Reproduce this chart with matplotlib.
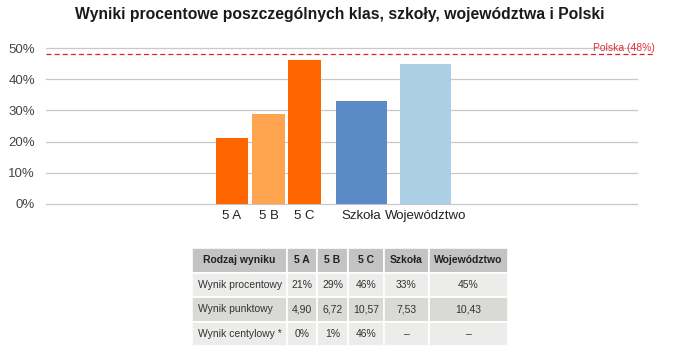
import matplotlib.pyplot as plt
import numpy as np

plt.rcParams['font.family'] = ['Liberation Sans', 'DejaVu Sans']

# Data
categories = ['5 A', '5 B', '5 C', 'Szkoła', 'Województwo']
percent = [21, 29, 46, 33, 45]
polska = 48
bar_colors = ['#FF6600', '#FFA54F', '#FF6600', '#5A8BC6', '#ABD0E6']

table_header = ['Rodzaj wyniku', '5 A', '5 B', '5 C', 'Szkoła', 'Województwo']
table_rows = [
    ['Wynik procentowy', '21%', '29%', '46%', '33%', '45%'],
    ['Wynik punktowy', '4,90', '6,72', '10,57', '7,53', '10,43'],
    ['Wynik centylowy *', '0%', '1%', '46%', '–', '–'],
]

# layout (axis units = pixels from left of plot area)
bar_x = [186, 222.5, 258.5, 315.5, 379.5]
bar_w = [32, 33, 33, 51, 51]

fig = plt.figure(figsize=(6.8, 3.52), dpi=100)
fig.patch.set_facecolor('white')

ax = fig.add_axes([46/680, 1-204/352, 591/680, 156/352])
ax.set_xlim(0, 591)
ax.set_ylim(0, 50)
ax.bar(bar_x, percent, width=bar_w, color=bar_colors, zorder=3)

ax.set_yticks(np.arange(0, 51, 10))
ax.set_yticklabels([f'{v}%' for v in range(0, 51, 10)])
ax.yaxis.grid(True, color='#c8c8c8', lw=0.9, zorder=0)
for gl in ax.get_ygridlines():
    gl.set_clip_on(False)
ax.tick_params(axis='y', length=0, pad=8, labelsize=9.5, labelcolor='#444444')
ax.set_xticks(bar_x)
ax.set_xticklabels(categories)
ax.tick_params(axis='x', length=0, pad=4, labelsize=9.5, labelcolor='#222222')
for s in ax.spines.values():
    s.set_visible(False)

# Polska reference line
ax.axhline(polska, xmin=0, xmax=609/591, color='#d9202a', lw=0.9,
           ls=(0, (4, 2.5)), clip_on=False, zorder=4)
ax.text(609, polska + 0.3, f'Polska ({polska}%)', ha='right', va='bottom',
        color='#e0303a', fontsize=7.5, clip_on=False)

fig.text(0.5, 1-14/352, 'Wyniki procentowe poszczególnych klas, szkoły, województwa i Polski',
         ha='center', va='center', fontsize=11.3, fontweight='bold', color='#1a1a1a')

# Table
tax = fig.add_axes([192/680, 1-346/352, 316/680, 98/352])
tax.axis('off')
col_w = np.array([95, 30, 31, 36, 45, 79], dtype=float)
col_w = col_w / col_w.sum()
tbl = tax.table(cellText=table_rows, colLabels=table_header, colWidths=col_w,
                bbox=[0, 0, 1, 1], cellLoc='center')
tbl.auto_set_font_size(False)
row_bg = ['#ececea', '#d9d9d6', '#ececea']
for (r, c), cell in tbl.get_celld().items():
    cell.set_edgecolor('white')
    cell.set_linewidth(1.2)
    cell.set_fontsize(7.5)
    if r == 0:
        cell.set_facecolor('#c3c3c3')
        cell.get_text().set_fontweight('bold')
        cell.get_text().set_color('#222222')
    else:
        cell.set_facecolor(row_bg[r - 1])
        cell.get_text().set_color('#333333')
    if c == 0 and r > 0:
        cell.get_text().set_ha('left')
        cell.PAD = 0.06

fig.savefig('out.png', dpi=100, facecolor='white')
